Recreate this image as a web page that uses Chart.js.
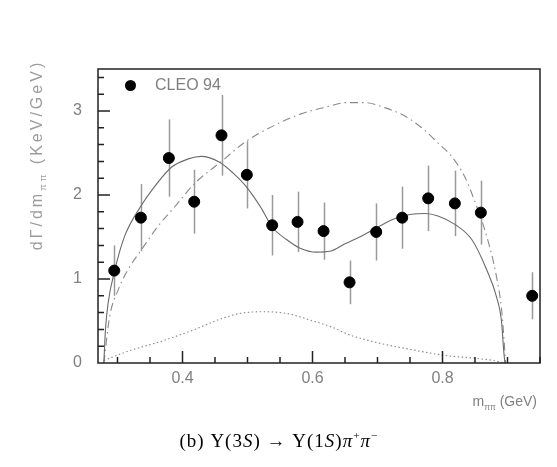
<!DOCTYPE html>
<html>
<head>
<meta charset="utf-8">
<script src="https://cdn.jsdelivr.net/npm/chart.js@4.4.1/dist/chart.umd.min.js"></script>
<style>
  html, body { margin: 0; padding: 0; background: #fff; }
  canvas { display: block; }
</style>
</head>
<body>
<canvas id="chart" width="557" height="467"></canvas>
<script>
// CLEO 94 measurement, dGamma/dm_pipi for Upsilon(3S) -> Upsilon(1S) pi+ pi-
var massBins = [0.295, 0.336, 0.379, 0.418, 0.460, 0.499, 0.538, 0.577, 0.617, 0.657, 0.698, 0.738, 0.778, 0.819, 0.859, 0.938];
var rates    = [1.10, 1.73, 2.44, 1.92, 2.71, 2.24, 1.64, 1.68, 1.57, 0.96, 1.56, 1.73, 1.96, 1.90, 1.79, 0.80];
var rateErrs = [0.30, 0.40, 0.46, 0.38, 0.48, 0.40, 0.36, 0.36, 0.34, 0.26, 0.34, 0.37, 0.39, 0.39, 0.38, 0.28];

// full fit (solid)
var fitX = [0.279, 0.2815, 0.2855, 0.296, 0.311, 0.337, 0.357, 0.383, 0.409, 0.429, 0.457, 0.478, 0.498, 0.519, 0.539, 0.560, 0.580, 0.606, 0.627, 0.650, 0.675, 0.701, 0.727, 0.752, 0.773, 0.793, 0.819, 0.845, 0.868, 0.883, 0.891, 0.894, 0.896];
var fitY = [0, 0.40, 0.71, 1.11, 1.51, 1.88, 2.10, 2.33, 2.43, 2.46, 2.39, 2.26, 2.10, 1.87, 1.61, 1.47, 1.37, 1.32, 1.33, 1.42, 1.51, 1.62, 1.72, 1.77, 1.78, 1.75, 1.65, 1.47, 1.11, 0.79, 0.48, 0.16, 0];

// dash-dot curve
var altX = [0.279, 0.288, 0.301, 0.316, 0.337, 0.3625, 0.388, 0.419, 0.460, 0.498, 0.539, 0.580, 0.622, 0.652, 0.680, 0.711, 0.742, 0.768, 0.793, 0.814, 0.834, 0.847, 0.868, 0.883, 0.891, 0.895, 0.897];
var altY = [0, 0.555, 0.87, 1.11, 1.35, 1.63, 1.86, 2.14, 2.40, 2.64, 2.82, 2.96, 3.05, 3.10, 3.10, 3.04, 2.94, 2.80, 2.62, 2.46, 2.22, 1.98, 1.51, 1.03, 0.63, 0.24, 0];

// dotted curve
var dotX = [0.279, 0.316, 0.368, 0.419, 0.457, 0.488, 0.524, 0.560, 0.601, 0.632, 0.655, 0.701, 0.752, 0.804, 0.845, 0.878, 0.896];
var dotY = [0.03, 0.14, 0.26, 0.40, 0.52, 0.59, 0.61, 0.59, 0.50, 0.42, 0.34, 0.24, 0.16, 0.09, 0.06, 0.03, 0];

var xLabelTicks = [0.4, 0.6, 0.8];
var yLabelTicks = [0, 1, 2, 3];

function toPoints(xs, ys) {
  return xs.map(function(x, i) { return { x: x, y: ys[i] }; });
}

var labelFont = '"Liberation Sans", Arial, sans-serif';
var grey = '#808080';

// draws a row of text pieces (plain / sub / sup / italic) starting at x
function drawPieces(ctx, pieces, x, y, size, family) {
  pieces.forEach(function(p) {
    var s = p.sub || p.sup ? size * 0.6 : size;
    var dy = p.sub ? size * 0.25 : (p.sup ? -size * 0.4 : 0);
    ctx.font = (p.italic ? 'italic ' : '') + s + 'px ' + family;
    ctx.fillText(p.t, x, y + dy);
    x += ctx.measureText(p.t).width;
  });
  return x;
}
function measurePieces(ctx, pieces, size, family) {
  var w = 0;
  pieces.forEach(function(p) {
    var s = p.sub || p.sup ? size * 0.6 : size;
    ctx.font = (p.italic ? 'italic ' : '') + s + 'px ' + family;
    w += ctx.measureText(p.t).width;
  });
  return w;
}

var decorations = {
  id: 'decorations',
  beforeDatasetsDraw: function(chart) {
    var ctx = chart.ctx, xs = chart.scales.x, ys = chart.scales.y;
    ctx.save();
    ctx.strokeStyle = '#9a9a9a';
    ctx.lineWidth = 1.5;
    massBins.forEach(function(m, i) {
      var px = Math.round(xs.getPixelForValue(m)) + 0.5;
      ctx.beginPath();
      ctx.moveTo(px, ys.getPixelForValue(rates[i] + rateErrs[i]));
      ctx.lineTo(px, ys.getPixelForValue(rates[i] - rateErrs[i]));
      ctx.stroke();
    });
    ctx.restore();
  },
  afterDraw: function(chart) {
    var ctx = chart.ctx, xs = chart.scales.x, ys = chart.scales.y;
    var a = chart.chartArea;
    ctx.save();
    // frame
    ctx.strokeStyle = '#222';
    ctx.lineWidth = 1.5;
    ctx.strokeRect(a.left, a.top, a.right - a.left, a.bottom - a.top);

    // inward ticks
    ctx.lineWidth = 1.5;
    ctx.beginPath();
    for (var k = 0; k <= 13; k++) {
      var v = 0.30 + k * 0.05;
      var px = xs.getPixelForValue(v);
      var major = Math.abs(v * 10 - Math.round(v * 10)) < 1e-6 && Math.round(v * 10) % 2 === 0;
      ctx.moveTo(px, a.bottom);
      ctx.lineTo(px, a.bottom - (major ? 12 : 6));
    }
    for (var j = 1; j <= 17; j++) {
      var yv = j * 0.2;
      var py = ys.getPixelForValue(yv);
      var ymaj = j % 5 === 0;
      ctx.moveTo(a.left, py);
      ctx.lineTo(a.left + (ymaj ? 12 : 6), py);
    }
    ctx.stroke();

    // legend
    ctx.fillStyle = '#000';
    ctx.beginPath();
    ctx.arc(130.5, 85.5, 5.5, 0, Math.PI * 2);
    ctx.fill();
    ctx.fillStyle = grey;
    ctx.font = '16px ' + labelFont;
    ctx.textBaseline = 'middle';
    ctx.textAlign = 'left';
    ctx.fillText('CLEO 94', 155, 86);

    // x axis title, right aligned
    ctx.textBaseline = 'alphabetic';
    var xt = [{ t: 'm' }, { t: '\u03c0\u03c0', sub: true }, { t: ' (GeV)' }];
    var wx = measurePieces(ctx, xt, 14, labelFont);
    drawPieces(ctx, xt, 537 - wx, 406, 14, labelFont);

    // y axis title, rotated, wide spacing like the original
    ctx.fillStyle = '#9c9c9c';
    ctx.letterSpacing = '3px';
    var yt = [{ t: 'd\u0393/dm' }, { t: '\u03c0\u03c0', sub: true }, { t: ' (KeV/GeV)' }];
    var wy = measurePieces(ctx, yt, 16, labelFont);
    ctx.save();
    ctx.translate(42, 155);
    ctx.rotate(-Math.PI / 2);
    drawPieces(ctx, yt, -wy / 2, 0, 16, labelFont);
    ctx.restore();

    // caption
    ctx.fillStyle = '#000';
    ctx.letterSpacing = '1px';
    var serif = '"Liberation Serif", "DejaVu Serif", serif';
    var cap = [
      { t: '(b) \u03a5(3' }, { t: 'S', italic: true }, { t: ') \u2192 \u03a5(1' }, { t: 'S', italic: true },
      { t: ')' }, { t: '\u03c0', italic: true }, { t: '+', sup: true }, { t: '\u03c0', italic: true }, { t: '\u2212', sup: true }
    ];
    var wc = measurePieces(ctx, cap, 19, serif);
    drawPieces(ctx, cap, 279 - wc / 2, 447, 19, serif);
    ctx.restore();
  }
};

new Chart(document.getElementById('chart'), {
  type: 'scatter',
  data: {
    datasets: [
      {
        type: 'scatter',
        data: toPoints(massBins, rates),
        backgroundColor: '#000',
        borderColor: '#000',
        pointRadius: 5.5,
        pointHoverRadius: 5.5,
        order: 0
      },
      {
        type: 'line',
        data: toPoints(fitX, fitY),
        borderColor: '#6a6a6a',
        borderWidth: 1.1,
        pointRadius: 0,
        fill: false,
        cubicInterpolationMode: 'monotone',
        order: 1
      },
      {
        type: 'line',
        data: toPoints(altX, altY),
        borderColor: '#8a8a8a',
        borderWidth: 1.1,
        borderDash: [8, 4, 1.5, 4],
        pointRadius: 0,
        fill: false,
        cubicInterpolationMode: 'monotone',
        order: 2
      },
      {
        type: 'line',
        data: toPoints(dotX, dotY),
        borderColor: '#8a8a8a',
        borderWidth: 1.1,
        borderDash: [1.5, 2.5],
        pointRadius: 0,
        fill: false,
        cubicInterpolationMode: 'monotone',
        order: 3
      }
    ]
  },
  options: {
    responsive: false,
    animation: false,
    events: [],
    layout: { padding: { left: 0, top: 69, right: 17, bottom: 64 } },
    plugins: { legend: { display: false }, tooltip: { enabled: false }, title: { display: false } },
    scales: {
      x: {
        type: 'linear',
        min: 0.27,
        max: 0.95,
        grid: { display: false, drawTicks: false },
        border: { display: false },
        afterFit: function(scale) { scale.height = 40; },
        afterBuildTicks: function(scale) {
          scale.ticks = xLabelTicks.map(function(v) { return { value: v }; });
        },
        ticks: {
          autoSkip: false,
          maxRotation: 0,
          padding: 6,
          color: grey,
          font: { family: labelFont, size: 16 },
          callback: function(v) { return v.toFixed(1); }
        }
      },
      y: {
        min: 0,
        max: 3.5,
        grid: { display: false, drawTicks: false },
        border: { display: false },
        afterFit: function(scale) { scale.width = 98; },
        afterBuildTicks: function(scale) {
          scale.ticks = yLabelTicks.map(function(v) { return { value: v }; });
        },
        ticks: {
          padding: 16,
          color: grey,
          font: { family: labelFont, size: 16 },
          callback: function(v) { return String(v); }
        }
      }
    }
  },
  plugins: [decorations]
});
</script>
</body>
</html>
